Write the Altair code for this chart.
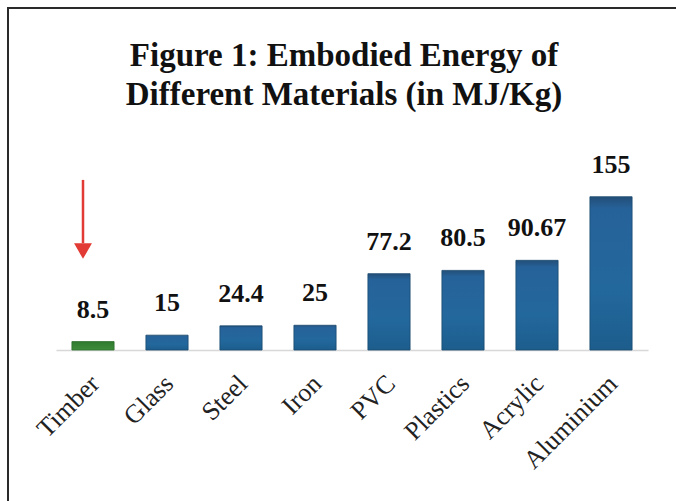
import altair as alt
import pandas as pd

materials = ["Timber", "Glass", "Steel", "Iron", "PVC", "Plastics", "Acrylic", "Aluminium"]
energy = [8.5, 15, 24.4, 25, 77.2, 80.5, 90.67, 155]
labels = ["8.5", "15", "24.4", "25", "77.2", "80.5", "90.67", "155"]

df = pd.DataFrame({"material": materials, "energy": energy, "label": labels})

SERIF = "Liberation Serif"
W, H = 592, 178
PAD_L, PAD_T = 56, 172
TOTAL_W, TOTAL_H = 676, 501

x_enc = alt.X(
    "material:N",
    sort=materials,
    scale=alt.Scale(paddingInner=0.43, paddingOuter=0.215),
    axis=alt.Axis(
        title=None,
        labelAngle=-45,
        labelFont=SERIF,
        labelFontSize=26,
        labelColor="#222222",
        labelPadding=20,
        labelOffset=-7,
        ticks=False,
        domainColor="#d8d8d8",
        domainWidth=1.5,
    ),
)
y_enc = alt.Y("energy:Q", scale=alt.Scale(domain=[0, 180]), axis=None)

blue = alt.Gradient(
    gradient="linear",
    x1=0, x2=0, y1=0, y2=1,
    stops=[
        alt.GradientStop(offset=0, color="#234f78"),
        alt.GradientStop(offset=0.08, color="#26629a"),
        alt.GradientStop(offset=0.6, color="#23689d"),
        alt.GradientStop(offset=1, color="#1c5d8c"),
    ],
)
green = alt.Gradient(
    gradient="linear",
    x1=0, x2=0, y1=0, y2=1,
    stops=[
        alt.GradientStop(offset=0, color="#2f7a2e"),
        alt.GradientStop(offset=1, color="#3f8c3c"),
    ],
)

base = alt.Chart(df)

bars_blue = base.transform_filter(alt.datum.material != "Timber").mark_bar(
    fill=blue, stroke="#1a4a70", strokeWidth=0.8
).encode(x=x_enc, y=y_enc)

bars_green = base.transform_filter(alt.datum.material == "Timber").mark_bar(
    fill=green, stroke="#2c6e2b", strokeWidth=0.8
).encode(x=x_enc, y=y_enc)

values = base.mark_text(
    font=SERIF, fontSize=26, fontWeight="bold", color="#111111",
    baseline="bottom", dy=-19,
).encode(x=x_enc, y=y_enc, text="label:N")

# red arrow pointing down at the timber bar
arrow_df = pd.DataFrame({"material": ["Timber"], "top": [172], "bottom": [108], "tip": [100]})
arrow_x = alt.X("material:N", sort=materials)
arrow_shaft = alt.Chart(arrow_df).mark_rule(color="#e23a34", strokeWidth=2.5, xOffset=-10).encode(
    x=arrow_x, y="top:Q", y2="bottom:Q"
)
arrow_head = alt.Chart(arrow_df).mark_point(
    shape="triangle-down", filled=True, color="#e23a34", size=320, opacity=1, xOffset=-10
).encode(x=arrow_x, y="tip:Q")

# frame lines along the top and left edges
frame_top = alt.Chart(df).mark_rule(color="#2a2a2a", strokeWidth=2).encode(
    x=alt.value(7 - PAD_L), x2=alt.value(TOTAL_W - PAD_L), y=alt.value(8 - PAD_T)
)
frame_left = alt.Chart(df).mark_rule(color="#2a2a2a", strokeWidth=2).encode(
    x=alt.value(8 - PAD_L), y=alt.value(7 - PAD_T), y2=alt.value(TOTAL_H - PAD_T)
)

chart = alt.layer(
    bars_blue, bars_green, values, arrow_shaft, arrow_head, frame_top, frame_left
).properties(
    width=W,
    height=H,
    background="white",
    autosize=alt.AutoSizeParams(type="none"),
    padding={"left": PAD_L, "top": PAD_T, "right": TOTAL_W - PAD_L - W, "bottom": TOTAL_H - PAD_T - H},
    title=alt.TitleParams(
        text=["Figure 1: Embodied Energy of", "Different Materials (in MJ/Kg)"],
        font=SERIF,
        fontSize=33,
        fontWeight="bold",
        color="#111111",
        lineHeight=39,
        anchor="middle",
        frame="group",
        dx=-8,
        # the frame lines set the top of the layer's bounds, so pull the title down below them
        offset=-106,
    ),
).configure_view(strokeOpacity=0)

chart.save("out.html", embed_options={"renderer": "svg", "actions": False})
